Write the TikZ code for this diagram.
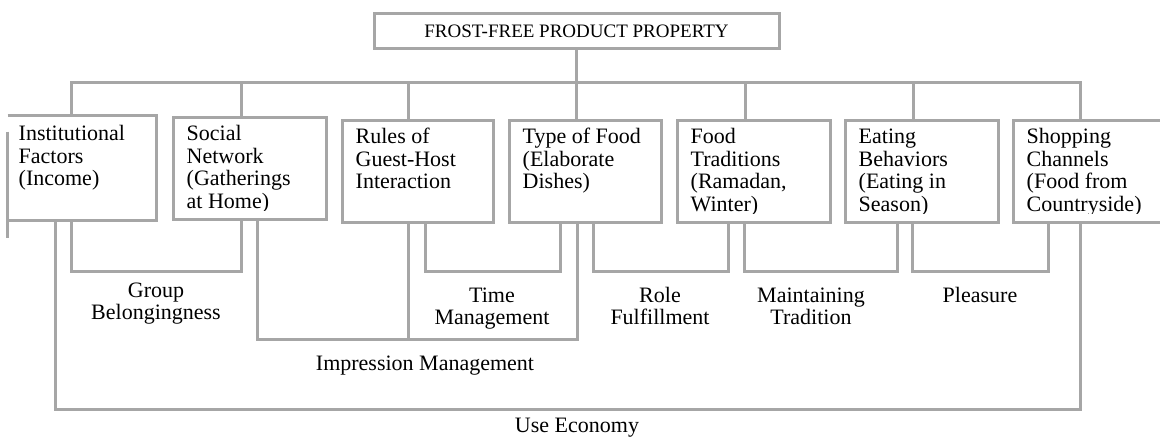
\documentclass[tikz,border=0pt]{standalone}
\usepackage{fontspec}
\setmainfont{Liberation Serif}
\usetikzlibrary{calc}
\definecolor{wiregray}{HTML}{A6A6A6}
% invisible strut fixing the height of a node's first line
\newcommand{\capstrut}{\rule{0pt}{18pt}}
\begin{document}
\begin{tikzpicture}[x=1pt,y=-1pt,
  wire/.style={draw=wiregray, line width=3pt, line join=miter},
  factor/.style={wire, rectangle, inner sep=0pt},
  boxtext/.style={anchor=north west, inner sep=0pt, align=left,
    font=\fontsize{22}{22.5}\selectfont},
  benefit/.style={anchor=north, inner sep=0pt, align=center,
    font=\fontsize{22}{22.5}\selectfont},
  headbox/.style={wire, rectangle, inner sep=0pt,
    font=\fontsize{19}{22}\selectfont}
]
\useasboundingbox (0,0) rectangle (1160,440);

% product property at the top
\node[headbox, minimum width=405pt, minimum height=35pt,
      text height=13pt, text depth=0pt] (head) at (576.5,30.5)
  {FROST-FREE PRODUCT PROPERTY};

% the seven factor boxes
\node[factor, draw=none, minimum width=146pt, minimum height=102pt] (b1) at (82,168) {};
\node[factor, minimum width=153pt, minimum height=102pt] (b2) at (249.5,168) {};
\node[factor, minimum width=151pt, minimum height=102pt] (b3) at (417.5,171) {};
\node[factor, minimum width=152pt, minimum height=102pt] (b4) at (585,171) {};
\node[factor, minimum width=153pt, minimum height=102pt] (b5) at (753.5,171) {};
\node[factor, minimum width=153pt, minimum height=102pt] (b6) at (921.5,171) {};
\node[factor, minimum width=157pt, minimum height=102pt] (b7) at (1091.5,171) {};

% first box: open at its upper left, with a longer left rule
\draw[wire] (b1.north west) -- (b1.north east) -- (b1.south east) -- (b1.south west);
\draw[wire] ($(b1.north west)+(0,16)$) -- ($(b1.south west)+(0,17)$);

% box texts, cut off just under the last baseline
\begin{scope}
  \clip (0,0) rectangle (1160,210.5);
  \node[boxtext] (t1) at ($(b1.north west)+(11,7)$)
    {\capstrut Institutional\\Factors\\(Income)};
  \node[boxtext] (t2) at ($(b2.north west)+(15,7)$)
    {\capstrut Social\\Network\\(Gatherings\\at Home)};
\end{scope}
\begin{scope}
  \clip (0,0) rectangle (1160,213.5);
  \node[boxtext] (t3) at ($(b3.north west)+(15,7)$)
    {\capstrut Rules of\\Guest-Host\\Interaction};
  \node[boxtext] (t4) at ($(b4.north west)+(15,7)$)
    {\capstrut Type of Food\\(Elaborate\\Dishes)};
  \node[boxtext] (t5) at ($(b5.north west)+(15,7)$)
    {\capstrut Food\\Traditions\\(Ramadan,\\Winter)};
  \node[boxtext] (t6) at ($(b6.north west)+(15,7)$)
    {\capstrut Eating\\Behaviors\\(Eating in\\Season)};
  \node[boxtext] (t7) at ($(b7.north west)+(15,7)$)
    {\capstrut Shopping\\Channels\\(Food from\\Countryside)};
\end{scope}

% tree from the product property down to the factors
\draw[wire] (head.south) -- (head.south |- b4.north);
\coordinate (busL) at (71,82);
\coordinate (busR) at (1080,82);
\draw[wire] (busL |- b1.north) -- (busL) -- (busR) -- (busR |- b7.north);
\foreach \x/\b in {241/b2, 408/b3, 745/b5, 913/b6} {
  \coordinate (drop\b) at (\x,82);
  \draw[wire] (drop\b) -- (drop\b |- \b.north);
}

% brackets joining factors to the benefits they serve
\coordinate (gbA) at (71,271);  \coordinate (gbB) at (241,271);
\draw[wire] (gbA |- b1.south) -- (gbA) -- (gbB) -- (gbB |- b2.south);

\coordinate (tmA) at (425,271); \coordinate (tmB) at (560,271);
\draw[wire] (tmA |- b3.south) -- (tmA) -- (tmB) -- (tmB |- b4.south);

\coordinate (rfA) at (593,271); \coordinate (rfB) at (728,271);
\draw[wire] (rfA |- b4.south) -- (rfA) -- (rfB) -- (rfB |- b5.south);

\coordinate (mtA) at (744,271); \coordinate (mtB) at (897,271);
\draw[wire] (mtA |- b5.south) -- (mtA) -- (mtB) -- (mtB |- b6.south);

\coordinate (plA) at (912,271); \coordinate (plB) at (1048,271);
\draw[wire] (plA |- b6.south) -- (plA) -- (plB) -- (plB |- b7.south);

\coordinate (imA) at (257,339); \coordinate (imM) at (408,339);
\coordinate (imB) at (577,339);
\draw[wire] (imA |- b2.south) -- (imA) -- (imB) -- (imB |- b4.south);
\draw[wire] (imM |- b3.south) -- (imM);

\coordinate (ueA) at (55,409);  \coordinate (ueB) at (1080,409);
\draw[wire] (ueA |- b1.south) -- (ueA) -- (ueB) -- (ueB |- b7.south);

% benefit labels
\node[benefit] (gb) at (156,279) {\capstrut Group\\Belongingness};
\node[benefit] (tm) at (492,284) {\capstrut Time\\Management};
\node[benefit] (rf) at (660,284) {\capstrut Role\\Fulfillment};
\node[benefit] (mt) at (811,284) {\capstrut Maintaining\\Tradition};
\node[benefit] (pl) at (980,284) {\capstrut Pleasure};
\node[benefit] (im) at (425,352) {\capstrut Impression Management};
\node[benefit] (ue) at (577,414) {\capstrut Use Economy};
\end{tikzpicture}
\end{document}
